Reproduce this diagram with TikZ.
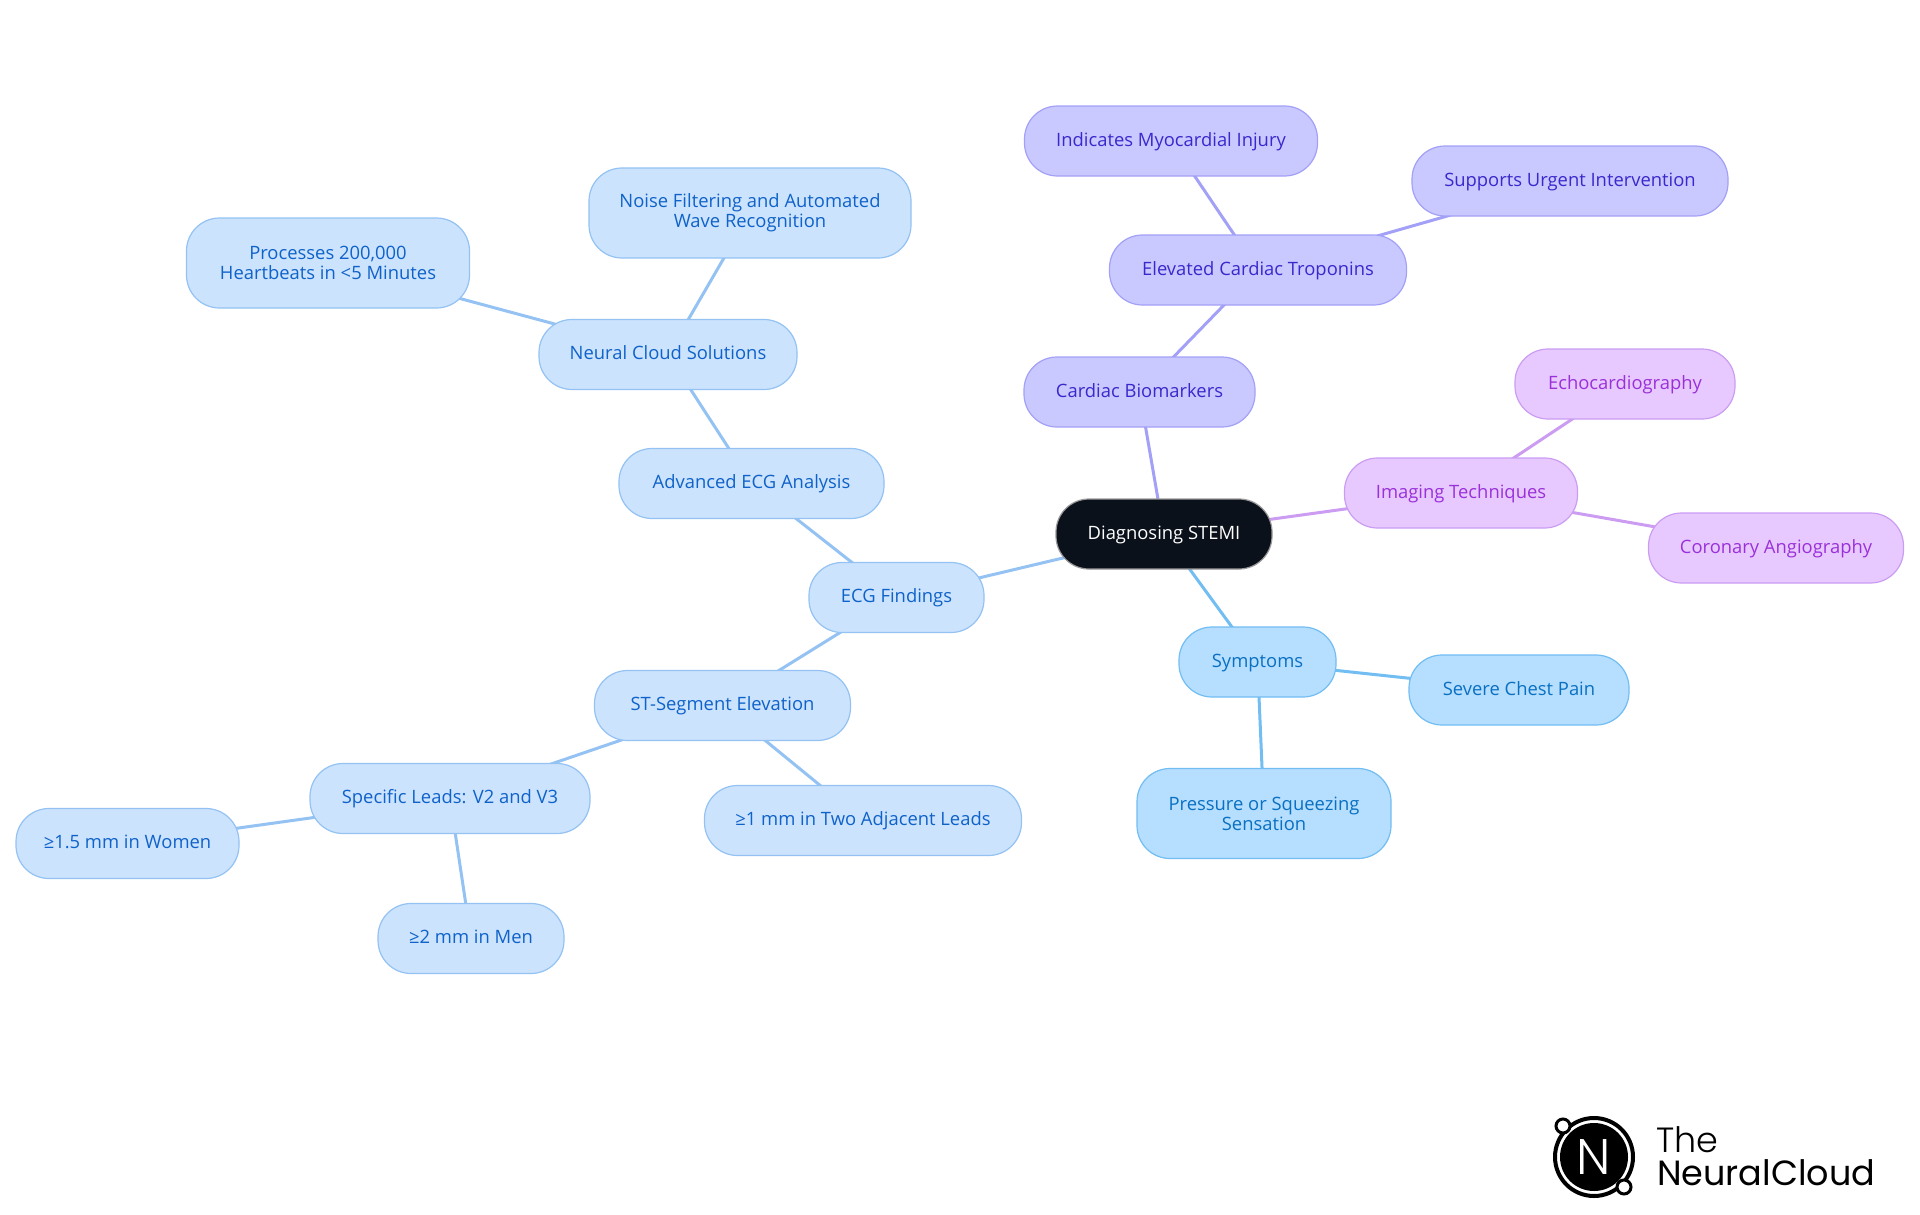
\documentclass[tikz,border=0pt]{standalone}
\usepackage{fontspec}
\setmainfont{Open Sans}
\newfontfamily\logolight{Poppins Light}
\newfontfamily\logomedium{Poppins}
\usetikzlibrary{backgrounds}
\definecolor{rootfill}{HTML}{0B111B}
\definecolor{bluefill}{HTML}{CCE3FD}
\definecolor{blueline}{HTML}{93C2F3}
\definecolor{bluetext}{HTML}{0F62C9}
\definecolor{indigofill}{HTML}{C9C9FF}
\definecolor{indigoline}{HTML}{A3A0F7}
\definecolor{indigotext}{HTML}{3B28CC}
\definecolor{violetfill}{HTML}{E7C9FF}
\definecolor{violetline}{HTML}{CB9CF2}
\definecolor{violettext}{HTML}{9B30D9}
\definecolor{skyfill}{HTML}{B5DEFF}
\definecolor{skyline}{HTML}{72BDF2}
\definecolor{skytext}{HTML}{0A70C2}
\tikzset{
	topic/.style={rectangle, rounded corners=33, line width=1.2, inner sep=0, align=center, minimum height=70, text height=14, text depth=3.4, font=\fontsize{18.4}{20}\selectfont},
	twolines/.style={minimum height=90, text height={}, text depth={}},
	rootnode/.style={topic, fill=rootfill, draw=gray!80, text=white},
	bluenode/.style={topic, fill=bluefill, draw=blueline, text=bluetext},
	indigonode/.style={topic, fill=indigofill, draw=indigoline, text=indigotext},
	violetnode/.style={topic, fill=violetfill, draw=violetline, text=violettext},
	skynode/.style={topic, fill=skyfill, draw=skyline, text=skytext},
	link/.style={line width=3}
}
\begin{document}
\begin{tikzpicture}[x=1pt, y=-1pt]
	\useasboundingbox (0,0) rectangle (1920,1215);

	\node [rootnode, minimum width=216] (root) at (1164,534) {Diagnosing STEMI};

	\node [indigonode, minimum width=231] (biomarkers) at (1139.5,392) {Cardiac Biomarkers};
	\node [indigonode, minimum width=297] (troponins) at (1258,270) {Elevated Cardiac Troponins};
	\node [indigonode, minimum width=293] (injury) at (1171,141) {Indicates Myocardial Injury};
	\node [indigonode, minimum width=316] (urgent) at (1570,181) {Supports Urgent Intervention};

	\node [violetnode, minimum width=233] (imaging) at (1461,493) {Imaging Techniques};
	\node [violetnode, minimum width=220] (echo) at (1625,384) {Echocardiography};
	\node [violetnode, minimum width=255] (angio) at (1776,548) {Coronary Angiography};

	\node [skynode, minimum width=157] (symptoms) at (1257.5,662) {Symptoms};
	\node [skynode, minimum width=220] (chest) at (1519,690) {Severe Chest Pain};
	\node [skynode, twolines, minimum width=254] (pressure) at (1264,813.5) {Pressure or Squeezing\\Sensation};

	\node [bluenode, minimum width=175] (ecg) at (896.5,597.5) {ECG Findings};
	\node [bluenode, minimum width=265] (advanced) at (751.5,483.5) {Advanced ECG Analysis};
	\node [bluenode, minimum width=258] (neural) at (668,354.5) {Neural Cloud Solutions};
	\node [bluenode, twolines, minimum width=322] (noise) at (750,213) {Noise Filtering and Automated\\Wave Recognition};
	\node [bluenode, twolines, minimum width=283] (beats) at (328,263) {Processes 200,000\\Heartbeats in <5 Minutes};
	\node [bluenode, minimum width=256] (segment) at (722.5,705.5) {ST-Segment Elevation};
	\node [bluenode, minimum width=317] (adjacent) at (863,820.5) {≥1 mm in Two Adjacent Leads};
	\node [bluenode, minimum width=280] (leads) at (450,798.5) {Specific Leads: V2 and V3};
	\node [bluenode, minimum width=223] (women) at (127.5,843.5) {≥1.5 mm in Women};
	\node [bluenode, minimum width=186] (men) at (471,938.5) {≥2 mm in Men};

	\begin{scope}[on background layer]
		\draw [link, indigoline] (root.center)--(biomarkers.center);
		\draw [link, indigoline] (biomarkers.center)--(troponins.center);
		\draw [link, indigoline] (troponins.center)--(injury.center);
		\draw [link, indigoline] (troponins.center)--(urgent.center);

		\draw [link, violetline] (root.center)--(imaging.center);
		\draw [link, violetline] (imaging.center)--(echo.center);
		\draw [link, violetline] (imaging.center)--(angio.center);

		\draw [link, skyline] (root.center)--(symptoms.center);
		\draw [link, skyline] (symptoms.center)--(chest.center);
		\draw [link, skyline] (symptoms.center)--(pressure.center);

		\draw [link, blueline] (root.center)--(ecg.center);
		\draw [link, blueline] (ecg.center)--(advanced.center);
		\draw [link, blueline] (advanced.center)--(neural.center);
		\draw [link, blueline] (neural.center)--(noise.center);
		\draw [link, blueline] (neural.center)--(beats.center);
		\draw [link, blueline] (ecg.center)--(segment.center);
		\draw [link, blueline] (segment.center)--(adjacent.center);
		\draw [link, blueline] (segment.center)--(leads.center);
		\draw [link, blueline] (leads.center)--(women.center);
		\draw [link, blueline] (leads.center)--(men.center);
	\end{scope}

	\draw [line width=4, fill=white] (1594,1157) circle (39);
	\fill [black] (1594,1157) circle (34);
	\draw [line width=3, fill=white] (1563,1126) circle (7);
	\draw [line width=3, fill=white] (1624,1187) circle (7);
	\node [inner sep=0, text=white, font=\logolight\fontsize{50}{50}\selectfont] (logomark) at (1594,1157) {N};
	\node [inner sep=0, anchor=base west, font=\logolight\fontsize{35}{35}\selectfont] (logothe) at (1656,1152) {The};
	\node [inner sep=0, anchor=base west, font=\logomedium\fontsize{35}{35}\selectfont] (logoname) at (1657,1185) {NeuralCloud};
\end{tikzpicture}
\end{document}
